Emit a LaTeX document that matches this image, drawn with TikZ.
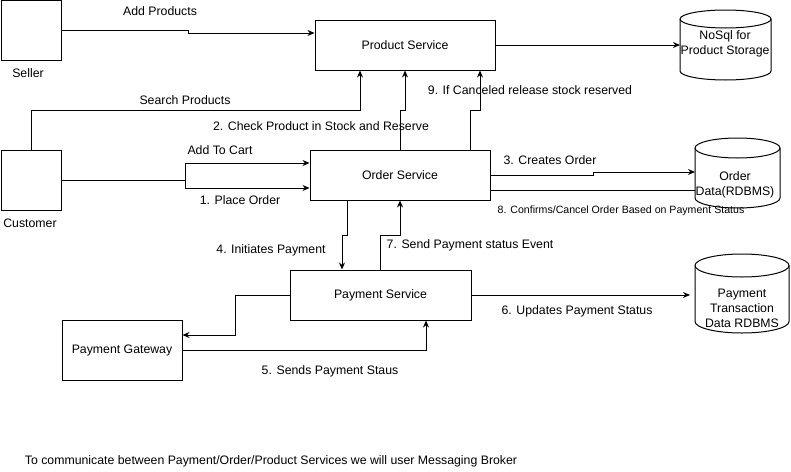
\documentclass[tikz,border=0pt]{standalone}
\usepackage{fontspec}
\setmainfont{Liberation Sans}
\usetikzlibrary{arrows.meta}
\begin{document}
\begin{tikzpicture}[x=1pt,y=-1pt,
  every node/.style={font=\fontsize{12.3}{15}\selectfont},
  box/.style={draw, line width=1pt, inner sep=0pt, align=center},
  lbl/.style={inner sep=0pt, align=center},
  small/.style={inner sep=0pt, font=\fontsize{10.6}{12}\selectfont},
  conn/.style={line width=1pt},
  arr/.style={line width=1pt, -{Stealth[length=7pt,width=6pt]}},
  cyl/.style={line width=1pt}]
\useasboundingbox (0,0) rectangle (791,471);

% boxes
\node[box, minimum width=60pt, minimum height=60pt] (seller) at (31,30) {};
\node[box, minimum width=60pt, minimum height=60pt] (customer) at (31,180) {};
\node[box, minimum width=180pt, minimum height=50pt] (product) at (405,45) {Product Service};
\node[box, minimum width=180pt, minimum height=50pt] (order) at (400,175) {Order Service};
\node[box, minimum width=181pt, minimum height=50pt] (payment) at (380.5,295) {Payment Service};
\node[box, minimum width=120pt, minimum height=60pt] (gateway) at (122,350) {Payment Gateway};

% cylinders
\draw[cyl] (680,19) -- (680,71) arc[start angle=180,end angle=360,x radius=45.5pt,y radius=9pt] -- (771,19) arc[start angle=0,end angle=180,x radius=45.5pt,y radius=9pt] -- cycle;
\draw[cyl] (680,19) arc[start angle=180,end angle=360,x radius=45.5pt,y radius=9pt];
\node[lbl] (nosql) at (725,44) {NoSql for\\Product Storage};
\coordinate (nosqlW) at (680,45);

\draw[cyl] (695,148) -- (695,198) arc[start angle=180,end angle=360,x radius=42.5pt,y radius=10pt] -- (780,148) arc[start angle=0,end angle=180,x radius=42.5pt,y radius=10pt] -- cycle;
\draw[cyl] (695,148) arc[start angle=180,end angle=360,x radius=42.5pt,y radius=10pt];
\node[lbl] (odata) at (735,185) {Order\\Data(RDBMS)};
\coordinate (odW) at (695,172);
\coordinate (odW8) at (695,190);

\draw[cyl] (695,265.5) -- (695,321.5) arc[start angle=180,end angle=360,x radius=47pt,y radius=11.5pt] -- (789,265.5) arc[start angle=0,end angle=180,x radius=47pt,y radius=11.5pt] -- cycle;
\draw[cyl] (695,265.5) arc[start angle=180,end angle=360,x radius=47pt,y radius=11.5pt];
\node[lbl] (ptd) at (742,308) {Payment\\Transaction\\Data RDBMS};
\coordinate (ptdW) at (690,295);

% labels
\node[lbl] (lseller) at (28,73) {Seller};
\node[lbl] (lcustomer) at (30,223) {Customer};
\node[lbl] (laddp) at (160,11) {Add Products};
\node[lbl] (lsearch) at (185,100) {Search Products};
\node[lbl] (l2) at (321,126) {2. Check Product in Stock and Reserve};
\node[lbl] (lcart) at (220,150) {Add To Cart};
\node[lbl] (l1) at (240,200) {1. Place Order};
\node[lbl] (l9) at (530,90) {9. If Canceled release stock reserved};
\node[lbl] (l3) at (550,160) {3. Creates Order};
\node[small] (l8) at (621,211) {8. Confirms/Cancel Order Based on Payment Status};
\node[lbl] (l4) at (271,250) {4. Initiates Payment};
\node[lbl] (l7) at (470,245) {7. Send Payment status Event};
\node[lbl] (l6) at (577,311) {6. Updates Payment Status};
\node[lbl] (l5) at (330,371) {5. Sends Payment Staus};
\node[lbl] (lnote) at (271,461) {To communicate between Payment/Order/Product Services we will user Messaging Broker};

% connectors
\draw[arr] (seller.east) -- (188,30) -- (188,33) -- (product.west |- 188,33);
\draw[arr] (customer.north) |- (360,110) -- (product.south -| 360,0);
\draw[conn] (customer.east) -- (185,180);
\draw[arr] (185,180) |- (order.west |- 0,163);
\draw[arr] (185,180) |- (order.west |- 0,188);
\draw[arr] (order.north) -- (400,110) -- (405,110) -- (product.south -| 405,0);
\draw[arr] (order.north -| 470,0) -- (470,110) -- (480,110) -- (product.south -| 480,0);
\draw[arr] (product.east) -- (nosqlW);
\draw[arr] (order.east) -- (593,175) -- (593,172) -- (odW);
\draw[conn] (order.east |- odW8) -- (odW8);
\draw[arr] (order.south -| 347,0) -- (347,235) -- (342,235) -- (payment.north -| 342,0);
\draw[arr] (payment.north -| 380,0) -- (380,235) -- (400,235) -- (order.south -| 400,0);
\draw[arr] (payment.west) -- (235,295) -- (235,335) -- (gateway.east |- 0,335);
\draw[arr] (gateway.east) -- (426,350) -- (payment.south -| 426,0);
\draw[arr] (payment.east) -- (ptdW);
\end{tikzpicture}
\end{document}
